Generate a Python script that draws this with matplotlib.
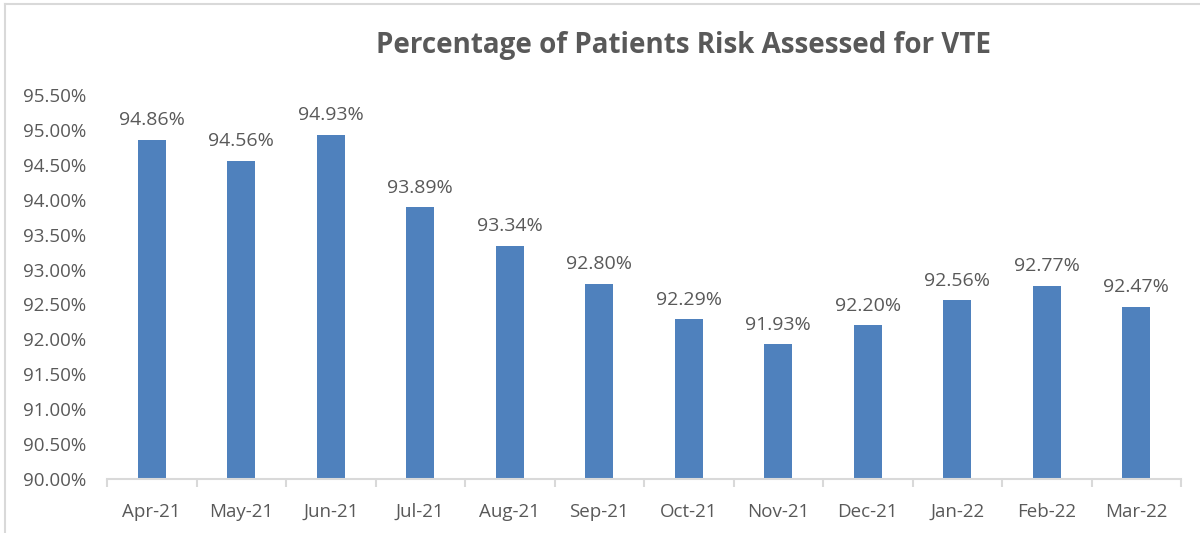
import numpy as np
import matplotlib.pyplot as plt
from matplotlib.lines import Line2D
from matplotlib.ticker import FuncFormatter

# ====================== 数据 ======================
months = ["Apr-21", "May-21", "Jun-21", "Jul-21", "Aug-21", "Sep-21",
          "Oct-21", "Nov-21", "Dec-21", "Jan-22", "Feb-22", "Mar-22"]
pct = [94.86, 94.56, 94.93, 93.89, 93.34, 92.80,
       92.29, 91.93, 92.20, 92.56, 92.77, 92.47]
y_ticks = [90.0, 90.5, 91.0, 91.5, 92.0, 92.5, 93.0, 93.5, 94.0, 94.5, 95.0, 95.5]

TXT = "#595959"
BAR = "#4f81bd"
plt.rcParams["font.family"] = ["Open Sans", "DejaVu Sans"]

fig = plt.figure(figsize=(12, 5.33), dpi=100)
ax = fig.add_axes([107 / 1200, 1 - 479 / 533, (1181 - 107) / 1200, (479 - 95) / 533])

x = np.arange(len(months))
ax.bar(x, pct, width=0.31, color=BAR, bottom=0)
for xi, v in zip(x, pct):
    ax.text(xi, v + 0.15, f"{v:.2f}%", ha="center", va="bottom", fontsize=14, color=TXT)

ax.set_xlim(-0.5, len(months) - 0.5)
ax.set_ylim(90, 95.5)
ax.set_yticks(y_ticks)
ax.yaxis.set_major_formatter(FuncFormatter(lambda v, p: f"{v:.2f}%"))
ax.tick_params(axis="y", length=0, labelsize=13.5, labelcolor=TXT, pad=15)

# 类别间的刻度线
ax.set_xticks(x)
ax.set_xticklabels(months)
ax.set_xticks(np.arange(len(months) + 1) - 0.5, minor=True)
ax.tick_params(axis="x", which="major", length=0, labelsize=13.5, labelcolor=TXT, pad=17)
ax.tick_params(axis="x", which="minor", length=6, color="#d9d9d9", width=1.5)

for s in ["top", "right", "left"]:
    ax.spines[s].set_visible(False)
ax.spines["bottom"].set_color("#d9d9d9")
ax.spines["bottom"].set_linewidth(1.5)

fig.text(684 / 1200, 1 - 46 / 533, "Percentage of Patients Risk Assessed for VTE",
         ha="center", va="center", fontsize=20, fontweight="bold", color=TXT)

# 外框
fig.add_artist(Line2D([5 / 1200, 5 / 1200], [0, 1 - 4 / 533], transform=fig.transFigure,
                      color="#d9d9d9", linewidth=1.5))
fig.add_artist(Line2D([5 / 1200, 1], [1 - 4 / 533, 1 - 4 / 533], transform=fig.transFigure,
                      color="#d9d9d9", linewidth=1.5))

plt.savefig("out.png", dpi=100)
